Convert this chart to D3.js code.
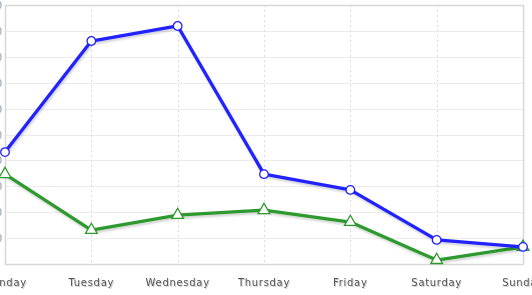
<!DOCTYPE html>
<html>
<head>
<meta charset="utf-8">
<script src="https://cdn.jsdelivr.net/npm/d3@7"></script>
<style>
  body { margin: 0; background: #fff; }
  svg { display: block; }
</style>
</head>
<body>
<div id="chart"></div>
<script>
const width = 532;
const height = 295;

// Data
const days = ["Monday", "Tuesday", "Wednesday", "Thursday", "Friday", "Saturday", "Sunday"];
const blueSeries = [43.2, 86.1, 91.9, 34.7, 28.6, 9.3, 6.6];
const greenSeries = [34.7, 13.1, 18.9, 20.8, 16.2, 1.5, 6.6];
const yTicks = [0, 10, 20, 30, 40, 50, 60, 70, 80, 90, 100];

const margin = { top: 5, right: 9, bottom: 31, left: 5 };

const svg = d3.select("#chart").append("svg")
    .attr("width", width)
    .attr("height", height);

const defs = svg.append("defs");
defs.append("filter").attr("id", "shadow")
    .attr("x", "-10%").attr("y", "-10%").attr("width", "120%").attr("height", "130%")
  .append("feDropShadow")
    .attr("dx", 1).attr("dy", 2).attr("stdDeviation", 1)
    .attr("flood-color", "#000").attr("flood-opacity", 0.18);
defs.append("filter").attr("id", "textShadow")
  .append("feDropShadow")
    .attr("dx", 1).attr("dy", 1).attr("stdDeviation", 0.6)
    .attr("flood-color", "#000").attr("flood-opacity", 0.2);

const x = d3.scalePoint()
    .domain(days)
    .range([margin.left, width - margin.right]);

const y = d3.scaleLinear()
    .domain([0, 100])
    .range([height - margin.bottom, margin.top]);

// horizontal grid
svg.append("g")
  .selectAll("line")
  .data(yTicks)
  .join("line")
    .attr("x1", margin.left)
    .attr("x2", width - margin.right)
    .attr("y1", d => Math.round(y(d)) + 0.5)
    .attr("y2", d => Math.round(y(d)) + 0.5)
    .attr("stroke", "#ececec");

// vertical dashed grid
svg.append("g")
  .selectAll("line")
  .data(days.slice(1, -1))
  .join("line")
    .attr("x1", d => Math.round(x(d)) + 0.5)
    .attr("x2", d => Math.round(x(d)) + 0.5)
    .attr("y1", margin.top)
    .attr("y2", height - margin.bottom)
    .attr("stroke", "#dcdcdc")
    .attr("stroke-dasharray", "2,3");

// plot border
svg.append("rect")
    .attr("x", margin.left + 0.5)
    .attr("y", margin.top + 0.5)
    .attr("width", width - margin.left - margin.right)
    .attr("height", height - margin.top - margin.bottom)
    .attr("fill", "none")
    .attr("stroke", "#d8d8d8")
    .attr("stroke-width", 1.5);

// y tick labels, mostly cut off at the left edge like in the original
svg.append("g")
  .selectAll("text")
  .data(yTicks.slice(1))
  .join("text")
    .attr("x", 2)
    .attr("y", d => y(d) + 4)
    .attr("text-anchor", "end")
    .attr("fill", "#999")
    .style("font", "10px 'DejaVu Sans'")
    .text(d => d);

// x labels
svg.append("g")
  .selectAll("text")
  .data(days)
  .join("text")
    .attr("x", d => x(d))
    .attr("y", 286)
    .attr("text-anchor", "middle")
    .attr("fill", "#555")
    .attr("filter", "url(#textShadow)")
    .style("font", "10px 'DejaVu Sans'")
    .style("letter-spacing", "0.7px")
    .text(d => d);

const line = d3.line()
    .x((d, i) => x(days[i]))
    .y(d => y(d));

function drawSeries(values, color, shape) {
  const g = svg.append("g");
  g.append("path")
      .datum(values)
      .attr("d", line)
      .attr("fill", "none")
      .attr("stroke", color)
      .attr("stroke-width", 3.3)
      .attr("stroke-linejoin", "round")
      .attr("filter", "url(#shadow)");
  g.selectAll("path.marker")
    .data(values)
    .join("path")
      .attr("class", "marker")
      .attr("transform", (d, i) => `translate(${x(days[i])},${y(d)})`)
      .attr("d", d3.symbol().type(shape).size(shape === d3.symbolCircle ? 58 : 60))
      .attr("fill", "#fff")
      .attr("stroke", color)
      .attr("stroke-width", 1.3);
}

drawSeries(greenSeries, "#2f992f", d3.symbolTriangle);
drawSeries(blueSeries, "#2020ff", d3.symbolCircle);
</script>
</body>
</html>
